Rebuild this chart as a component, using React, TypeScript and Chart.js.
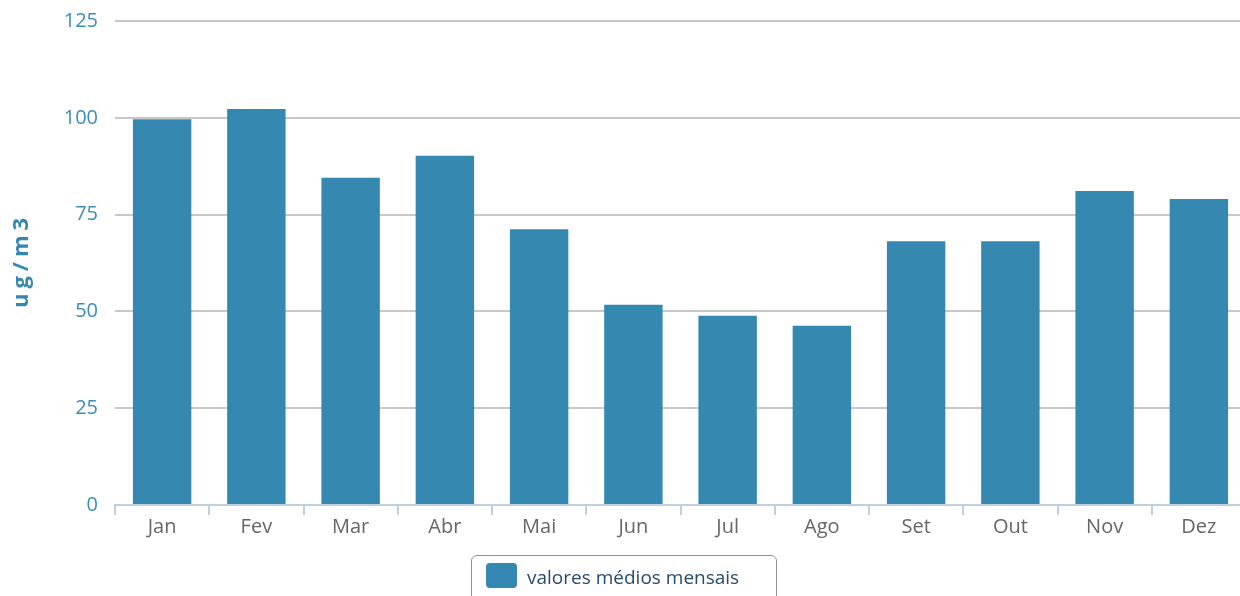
import React, { useEffect, useRef } from "react";
import { Chart, registerables } from "chart.js";

Chart.register(...registerables);

const categories = ["Jan", "Fev", "Mar", "Abr", "Mai", "Jun", "Jul", "Ago", "Set", "Out", "Nov", "Dez"];
const values = [99.6, 102.3, 84.5, 90.2, 71.2, 51.7, 48.9, 46.3, 68.1, 68.1, 81.1, 79.0];
const yTicks = [0, 25, 50, 75, 100, 125];
const seriesName = "valores médios mensais";
const yTitle = "ug/m3";

const BAR = "#3589b0";
const FONT = "'Open Sans', 'DejaVu Sans', sans-serif";

export default function App() {
  const ref = useRef<HTMLCanvasElement | null>(null);
  useEffect(() => {
    document.body.style.margin = "0";
    const titlePlugin = {
      id: "ytitle",
      afterDraw(chart: any) {
        const { ctx, chartArea } = chart;
        ctx.save();
        (ctx as any).letterSpacing = "5px";
        ctx.font = `bold 22px ${FONT}`;
        ctx.fillStyle = "#3589b0";
        ctx.textAlign = "center";
        ctx.textBaseline = "middle";
        ctx.translate(22, (chartArea.top + chartArea.bottom) / 2);
        ctx.rotate(-Math.PI / 2);
        ctx.fillText(yTitle, 2.5, 0);
        ctx.restore();
      },
    };
    const chart = new Chart(ref.current!, {
      type: "bar",
      data: {
        labels: categories,
        datasets: [
          {
            label: seriesName,
            data: values,
            backgroundColor: BAR,
            borderWidth: 0,
            categoryPercentage: 1,
            barPercentage: 0.62,
          },
        ],
      },
      options: {
        responsive: false,
        animation: false,
        layout: { padding: { top: 21, right: 0, left: 0, bottom: 0 } },
        plugins: { legend: { display: false }, tooltip: { enabled: false } },
        scales: {
          x: {
            grid: {
              offset: true,
              drawOnChartArea: false,
              drawTicks: true,
              tickLength: 10,
              color: "#c0d0e0",
              lineWidth: 2,
            },
            border: { color: "#c0d0e0", width: 2 },
            ticks: { color: "#666666", font: { family: FONT, size: 20 }, padding: 0 },
            afterFit(scale: any) {
              scale.height = 91;
            },
          },
          y: {
            min: 0,
            max: 125,
            afterBuildTicks(scale: any) {
              scale.ticks = yTicks.map((v) => ({ value: v }));
            },
            grid: { color: "#c8c8c8", lineWidth: 2, drawTicks: true, tickLength: 17, tickColor: "rgba(0,0,0,0)" },
            border: { display: false },
            ticks: { color: "#3d8eb5", font: { family: FONT, size: 20 }, padding: 0 },
            afterFit(scale: any) {
              scale.width = 115;
            },
          },
        },
      },
      plugins: [titlePlugin],
    });
    return () => chart.destroy();
  }, []);
  return (
    <div style={{ position: "fixed", left: 0, top: 0, width: 1240, height: 596, overflow: "hidden", background: "#fff" }}>
      <canvas ref={ref} width={1246} height={596} style={{ display: "block" }} />
      <div
        style={{
          position: "absolute",
          left: 471,
          top: 555,
          width: 306,
          height: 50,
          border: "1px solid #909090",
          borderRadius: 6,
          boxSizing: "border-box",
          fontFamily: FONT,
        }}
      >
        <div style={{ position: "absolute", left: 14, top: 7, width: 31, height: 25, background: BAR, borderRadius: 4 }} />
        <span style={{ position: "absolute", left: 55, top: 8, fontSize: 19, color: "#274b6d", whiteSpace: "nowrap" }}>{seriesName}</span>
      </div>
    </div>
  );
}
